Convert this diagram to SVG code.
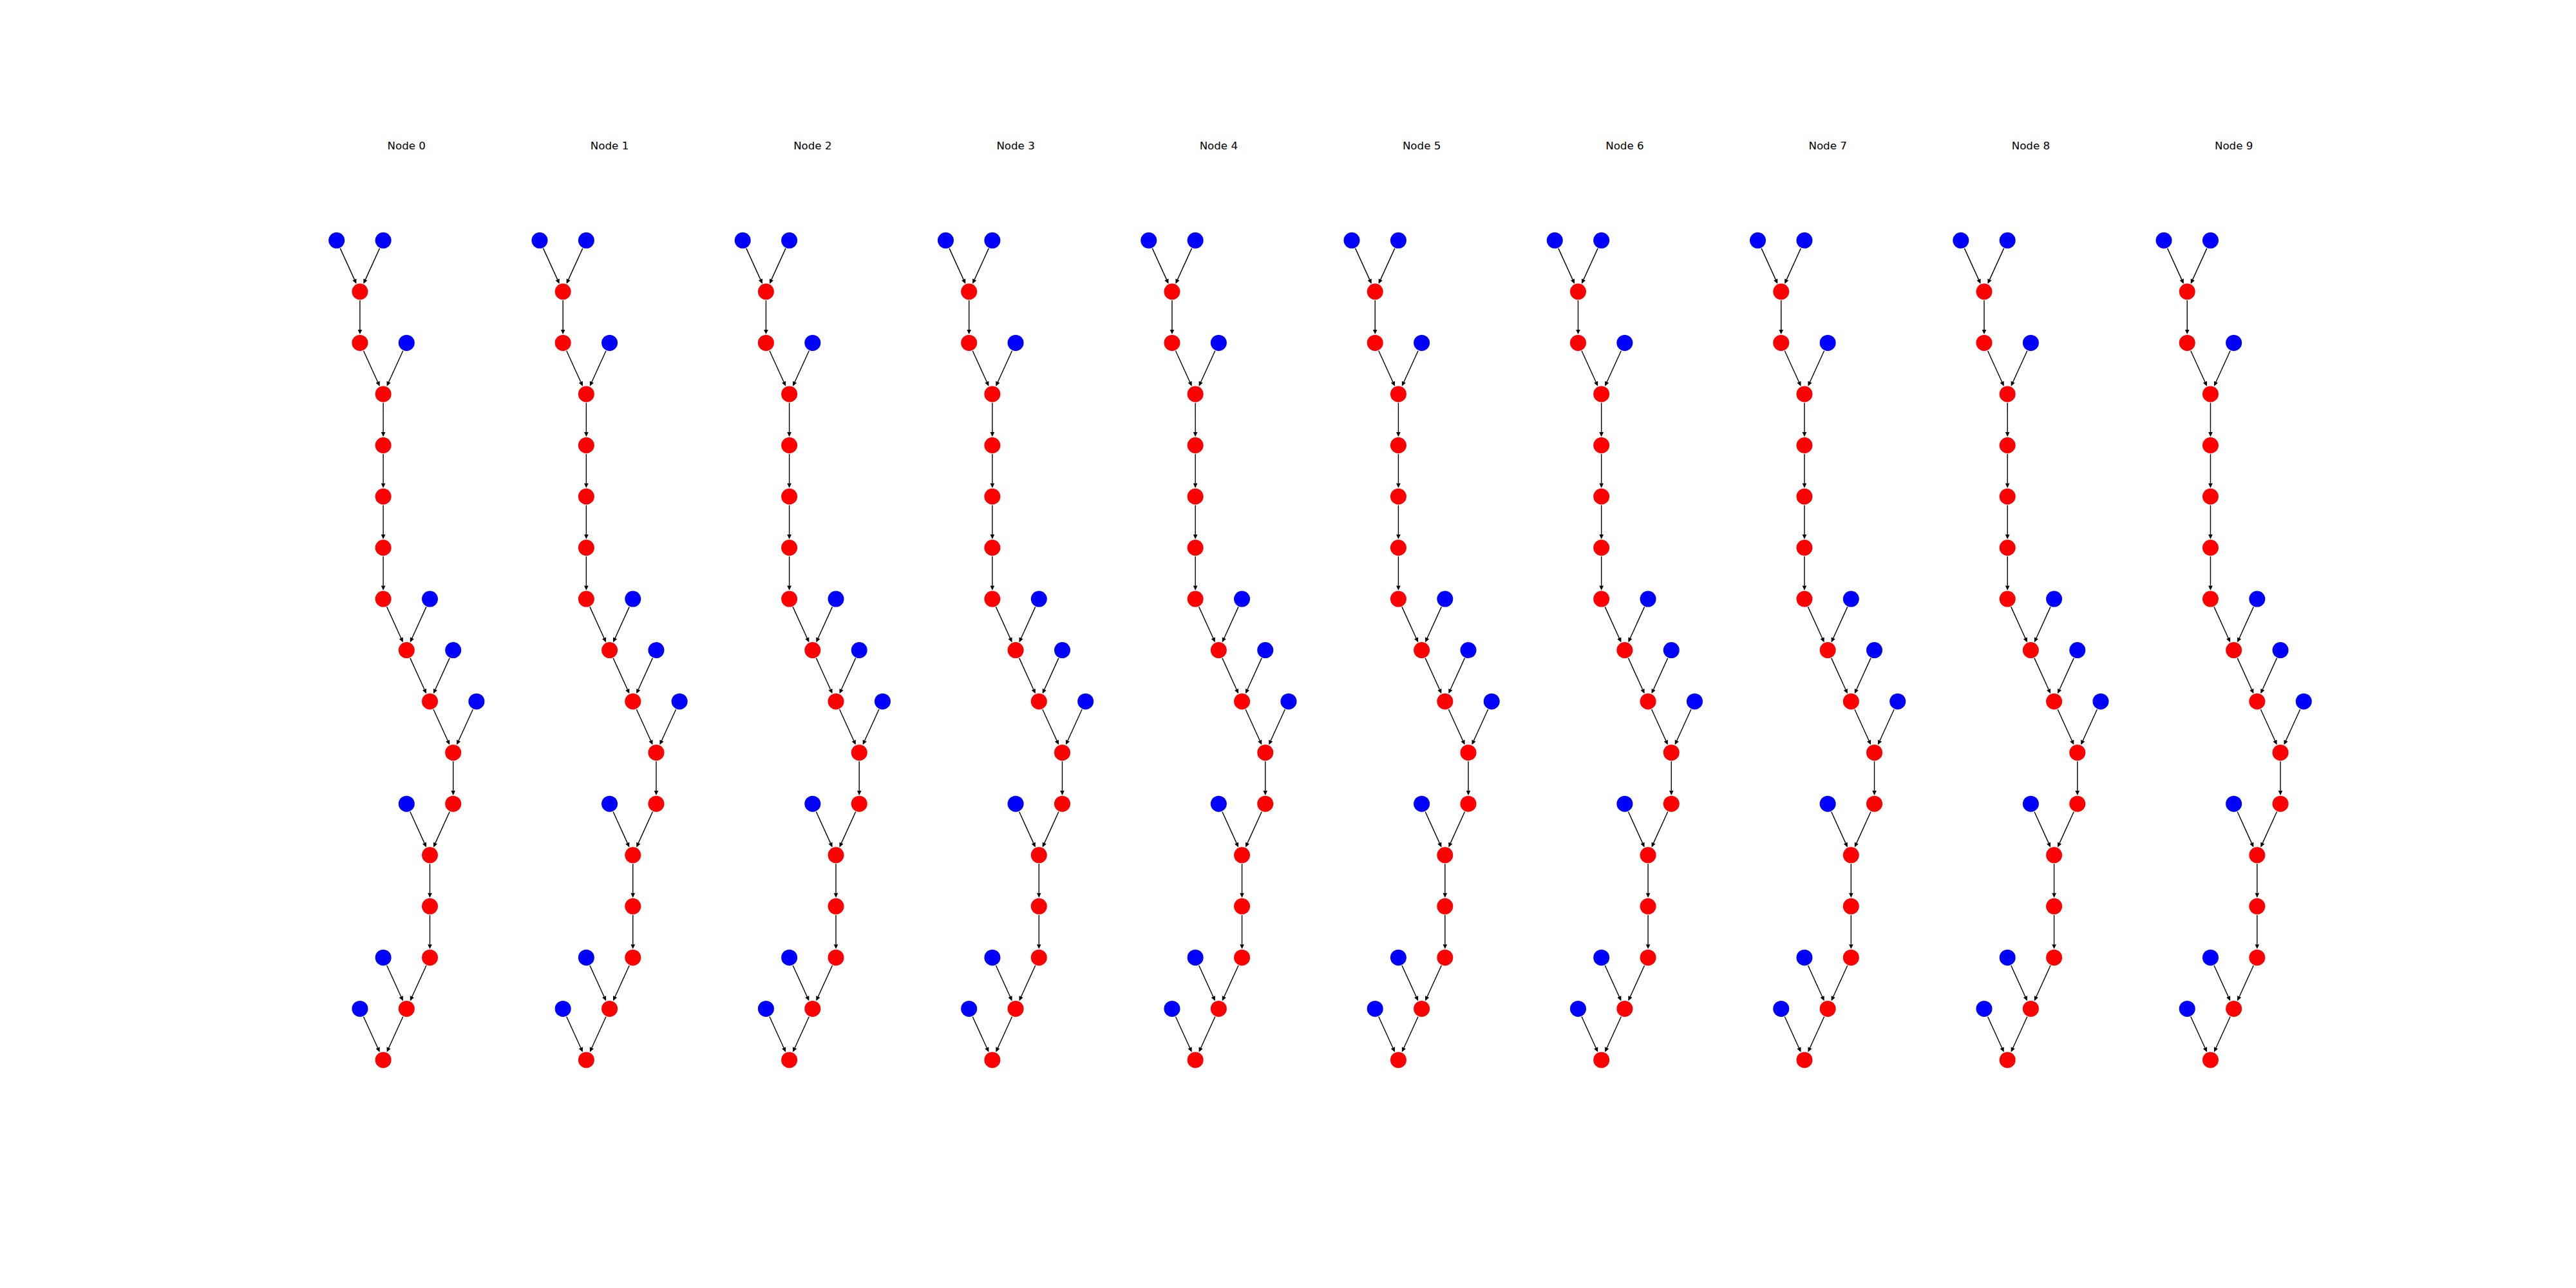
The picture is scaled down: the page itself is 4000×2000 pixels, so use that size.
<svg xmlns="http://www.w3.org/2000/svg" xmlns:xlink="http://www.w3.org/1999/xlink" width="4000" height="2000" viewBox="0 0 4000 2000">
<style>
.t{font-family:"DejaVu Sans","Liberation Sans",sans-serif;font-size:16.67px;fill:#000;text-anchor:middle}
.b{fill:#0000ff}
.r{fill:#ff0000}
.e line{stroke:#000;stroke-width:1.4;marker-end:url(#ah)}
</style>
<defs>
<marker id="ah" markerUnits="userSpaceOnUse" markerWidth="8" markerHeight="8" viewBox="0 -4 8 8" refX="0" refY="0" orient="auto" overflow="visible"><path d="M0,-3.3 L7.2,0 L0,3.3 z" fill="#000"/></marker>
</defs>
<rect width="4000" height="2000" fill="#fff"/>
<g id="panel-0" transform="translate(0,0)">
<text class="t" x="631.3" y="232.3">Node 0</text>
<g id="p0-edges" class="e">
<line x1="528.29" y1="385.59" x2="550.41" y2="434.14"/><line x1="589.51" y1="385.59" x2="567.39" y2="434.14"/><line x1="558.9" y1="466.3" x2="558.9" y2="511.9"/><line x1="564.49" y1="544.69" x2="586.61" y2="593.24"/><line x1="625.71" y1="544.69" x2="603.59" y2="593.24"/><line x1="595.1" y1="625.4" x2="595.1" y2="671"/><line x1="595.1" y1="705" x2="595.1" y2="750.5"/><line x1="595.1" y1="784.5" x2="595.1" y2="830"/><line x1="595.1" y1="864" x2="595.1" y2="909.6"/><line x1="600.69" y1="942.39" x2="622.81" y2="990.94"/><line x1="661.91" y1="942.39" x2="639.79" y2="990.94"/><line x1="636.89" y1="1021.89" x2="659.01" y2="1070.54"/><line x1="698.11" y1="1021.89" x2="675.99" y2="1070.54"/><line x1="673.09" y1="1101.49" x2="695.21" y2="1150.04"/><line x1="734.31" y1="1101.49" x2="712.19" y2="1150.04"/><line x1="703.7" y1="1182.2" x2="703.7" y2="1227.7"/><line x1="698.11" y1="1260.49" x2="675.99" y2="1309.14"/><line x1="636.89" y1="1260.49" x2="659.01" y2="1309.14"/><line x1="667.5" y1="1341.3" x2="667.5" y2="1386.8"/><line x1="667.5" y1="1420.8" x2="667.5" y2="1466.4"/><line x1="661.91" y1="1499.19" x2="639.79" y2="1547.74"/><line x1="600.69" y1="1499.19" x2="622.81" y2="1547.74"/><line x1="625.71" y1="1578.69" x2="603.59" y2="1627.24"/><line x1="564.49" y1="1578.69" x2="586.61" y2="1627.24"/>
</g>
<g id="p0-n0"><circle class="b" cx="522.7" cy="373.3" r="12.5"/></g><g id="p0-n1"><circle class="b" cx="595.1" cy="373.3" r="12.5"/></g><g id="p0-n2"><circle class="r" cx="558.9" cy="452.8" r="12.5"/></g><g id="p0-n3"><circle class="r" cx="558.9" cy="532.4" r="12.5"/></g><g id="p0-n4"><circle class="b" cx="631.3" cy="532.4" r="12.5"/></g><g id="p0-n5"><circle class="r" cx="595.1" cy="611.9" r="12.5"/></g><g id="p0-n6"><circle class="r" cx="595.1" cy="691.5" r="12.5"/></g><g id="p0-n7"><circle class="r" cx="595.1" cy="771" r="12.5"/></g><g id="p0-n8"><circle class="r" cx="595.1" cy="850.5" r="12.5"/></g><g id="p0-n9"><circle class="r" cx="595.1" cy="930.1" r="12.5"/></g><g id="p0-n10"><circle class="b" cx="667.5" cy="930.1" r="12.5"/></g><g id="p0-n11"><circle class="r" cx="631.3" cy="1009.6" r="12.5"/></g><g id="p0-n12"><circle class="b" cx="703.7" cy="1009.6" r="12.5"/></g><g id="p0-n13"><circle class="r" cx="667.5" cy="1089.2" r="12.5"/></g><g id="p0-n14"><circle class="b" cx="739.9" cy="1089.2" r="12.5"/></g><g id="p0-n15"><circle class="r" cx="703.7" cy="1168.7" r="12.5"/></g><g id="p0-n16"><circle class="r" cx="703.7" cy="1248.2" r="12.5"/></g><g id="p0-n17"><circle class="b" cx="631.3" cy="1248.2" r="12.5"/></g><g id="p0-n18"><circle class="r" cx="667.5" cy="1327.8" r="12.5"/></g><g id="p0-n19"><circle class="r" cx="667.5" cy="1407.3" r="12.5"/></g><g id="p0-n20"><circle class="r" cx="667.5" cy="1486.9" r="12.5"/></g><g id="p0-n21"><circle class="b" cx="595.1" cy="1486.9" r="12.5"/></g><g id="p0-n22"><circle class="r" cx="631.3" cy="1566.4" r="12.5"/></g><g id="p0-n23"><circle class="b" cx="558.9" cy="1566.4" r="12.5"/></g><g id="p0-n24"><circle class="r" cx="595.1" cy="1645.9" r="12.5"/></g>
</g>
<g id="panel-1" transform="translate(315.26,0)">
<text class="t" x="631.3" y="232.3">Node 1</text>
<g id="p1-edges" class="e">
<line x1="528.29" y1="385.59" x2="550.41" y2="434.14"/><line x1="589.51" y1="385.59" x2="567.39" y2="434.14"/><line x1="558.9" y1="466.3" x2="558.9" y2="511.9"/><line x1="564.49" y1="544.69" x2="586.61" y2="593.24"/><line x1="625.71" y1="544.69" x2="603.59" y2="593.24"/><line x1="595.1" y1="625.4" x2="595.1" y2="671"/><line x1="595.1" y1="705" x2="595.1" y2="750.5"/><line x1="595.1" y1="784.5" x2="595.1" y2="830"/><line x1="595.1" y1="864" x2="595.1" y2="909.6"/><line x1="600.69" y1="942.39" x2="622.81" y2="990.94"/><line x1="661.91" y1="942.39" x2="639.79" y2="990.94"/><line x1="636.89" y1="1021.89" x2="659.01" y2="1070.54"/><line x1="698.11" y1="1021.89" x2="675.99" y2="1070.54"/><line x1="673.09" y1="1101.49" x2="695.21" y2="1150.04"/><line x1="734.31" y1="1101.49" x2="712.19" y2="1150.04"/><line x1="703.7" y1="1182.2" x2="703.7" y2="1227.7"/><line x1="698.11" y1="1260.49" x2="675.99" y2="1309.14"/><line x1="636.89" y1="1260.49" x2="659.01" y2="1309.14"/><line x1="667.5" y1="1341.3" x2="667.5" y2="1386.8"/><line x1="667.5" y1="1420.8" x2="667.5" y2="1466.4"/><line x1="661.91" y1="1499.19" x2="639.79" y2="1547.74"/><line x1="600.69" y1="1499.19" x2="622.81" y2="1547.74"/><line x1="625.71" y1="1578.69" x2="603.59" y2="1627.24"/><line x1="564.49" y1="1578.69" x2="586.61" y2="1627.24"/>
</g>
<g id="p1-n0"><circle class="b" cx="522.7" cy="373.3" r="12.5"/></g><g id="p1-n1"><circle class="b" cx="595.1" cy="373.3" r="12.5"/></g><g id="p1-n2"><circle class="r" cx="558.9" cy="452.8" r="12.5"/></g><g id="p1-n3"><circle class="r" cx="558.9" cy="532.4" r="12.5"/></g><g id="p1-n4"><circle class="b" cx="631.3" cy="532.4" r="12.5"/></g><g id="p1-n5"><circle class="r" cx="595.1" cy="611.9" r="12.5"/></g><g id="p1-n6"><circle class="r" cx="595.1" cy="691.5" r="12.5"/></g><g id="p1-n7"><circle class="r" cx="595.1" cy="771" r="12.5"/></g><g id="p1-n8"><circle class="r" cx="595.1" cy="850.5" r="12.5"/></g><g id="p1-n9"><circle class="r" cx="595.1" cy="930.1" r="12.5"/></g><g id="p1-n10"><circle class="b" cx="667.5" cy="930.1" r="12.5"/></g><g id="p1-n11"><circle class="r" cx="631.3" cy="1009.6" r="12.5"/></g><g id="p1-n12"><circle class="b" cx="703.7" cy="1009.6" r="12.5"/></g><g id="p1-n13"><circle class="r" cx="667.5" cy="1089.2" r="12.5"/></g><g id="p1-n14"><circle class="b" cx="739.9" cy="1089.2" r="12.5"/></g><g id="p1-n15"><circle class="r" cx="703.7" cy="1168.7" r="12.5"/></g><g id="p1-n16"><circle class="r" cx="703.7" cy="1248.2" r="12.5"/></g><g id="p1-n17"><circle class="b" cx="631.3" cy="1248.2" r="12.5"/></g><g id="p1-n18"><circle class="r" cx="667.5" cy="1327.8" r="12.5"/></g><g id="p1-n19"><circle class="r" cx="667.5" cy="1407.3" r="12.5"/></g><g id="p1-n20"><circle class="r" cx="667.5" cy="1486.9" r="12.5"/></g><g id="p1-n21"><circle class="b" cx="595.1" cy="1486.9" r="12.5"/></g><g id="p1-n22"><circle class="r" cx="631.3" cy="1566.4" r="12.5"/></g><g id="p1-n23"><circle class="b" cx="558.9" cy="1566.4" r="12.5"/></g><g id="p1-n24"><circle class="r" cx="595.1" cy="1645.9" r="12.5"/></g>
</g>
<g id="panel-2" transform="translate(630.52,0)">
<text class="t" x="631.3" y="232.3">Node 2</text>
<g id="p2-edges" class="e">
<line x1="528.29" y1="385.59" x2="550.41" y2="434.14"/><line x1="589.51" y1="385.59" x2="567.39" y2="434.14"/><line x1="558.9" y1="466.3" x2="558.9" y2="511.9"/><line x1="564.49" y1="544.69" x2="586.61" y2="593.24"/><line x1="625.71" y1="544.69" x2="603.59" y2="593.24"/><line x1="595.1" y1="625.4" x2="595.1" y2="671"/><line x1="595.1" y1="705" x2="595.1" y2="750.5"/><line x1="595.1" y1="784.5" x2="595.1" y2="830"/><line x1="595.1" y1="864" x2="595.1" y2="909.6"/><line x1="600.69" y1="942.39" x2="622.81" y2="990.94"/><line x1="661.91" y1="942.39" x2="639.79" y2="990.94"/><line x1="636.89" y1="1021.89" x2="659.01" y2="1070.54"/><line x1="698.11" y1="1021.89" x2="675.99" y2="1070.54"/><line x1="673.09" y1="1101.49" x2="695.21" y2="1150.04"/><line x1="734.31" y1="1101.49" x2="712.19" y2="1150.04"/><line x1="703.7" y1="1182.2" x2="703.7" y2="1227.7"/><line x1="698.11" y1="1260.49" x2="675.99" y2="1309.14"/><line x1="636.89" y1="1260.49" x2="659.01" y2="1309.14"/><line x1="667.5" y1="1341.3" x2="667.5" y2="1386.8"/><line x1="667.5" y1="1420.8" x2="667.5" y2="1466.4"/><line x1="661.91" y1="1499.19" x2="639.79" y2="1547.74"/><line x1="600.69" y1="1499.19" x2="622.81" y2="1547.74"/><line x1="625.71" y1="1578.69" x2="603.59" y2="1627.24"/><line x1="564.49" y1="1578.69" x2="586.61" y2="1627.24"/>
</g>
<g id="p2-n0"><circle class="b" cx="522.7" cy="373.3" r="12.5"/></g><g id="p2-n1"><circle class="b" cx="595.1" cy="373.3" r="12.5"/></g><g id="p2-n2"><circle class="r" cx="558.9" cy="452.8" r="12.5"/></g><g id="p2-n3"><circle class="r" cx="558.9" cy="532.4" r="12.5"/></g><g id="p2-n4"><circle class="b" cx="631.3" cy="532.4" r="12.5"/></g><g id="p2-n5"><circle class="r" cx="595.1" cy="611.9" r="12.5"/></g><g id="p2-n6"><circle class="r" cx="595.1" cy="691.5" r="12.5"/></g><g id="p2-n7"><circle class="r" cx="595.1" cy="771" r="12.5"/></g><g id="p2-n8"><circle class="r" cx="595.1" cy="850.5" r="12.5"/></g><g id="p2-n9"><circle class="r" cx="595.1" cy="930.1" r="12.5"/></g><g id="p2-n10"><circle class="b" cx="667.5" cy="930.1" r="12.5"/></g><g id="p2-n11"><circle class="r" cx="631.3" cy="1009.6" r="12.5"/></g><g id="p2-n12"><circle class="b" cx="703.7" cy="1009.6" r="12.5"/></g><g id="p2-n13"><circle class="r" cx="667.5" cy="1089.2" r="12.5"/></g><g id="p2-n14"><circle class="b" cx="739.9" cy="1089.2" r="12.5"/></g><g id="p2-n15"><circle class="r" cx="703.7" cy="1168.7" r="12.5"/></g><g id="p2-n16"><circle class="r" cx="703.7" cy="1248.2" r="12.5"/></g><g id="p2-n17"><circle class="b" cx="631.3" cy="1248.2" r="12.5"/></g><g id="p2-n18"><circle class="r" cx="667.5" cy="1327.8" r="12.5"/></g><g id="p2-n19"><circle class="r" cx="667.5" cy="1407.3" r="12.5"/></g><g id="p2-n20"><circle class="r" cx="667.5" cy="1486.9" r="12.5"/></g><g id="p2-n21"><circle class="b" cx="595.1" cy="1486.9" r="12.5"/></g><g id="p2-n22"><circle class="r" cx="631.3" cy="1566.4" r="12.5"/></g><g id="p2-n23"><circle class="b" cx="558.9" cy="1566.4" r="12.5"/></g><g id="p2-n24"><circle class="r" cx="595.1" cy="1645.9" r="12.5"/></g>
</g>
<g id="panel-3" transform="translate(945.78,0)">
<text class="t" x="631.3" y="232.3">Node 3</text>
<g id="p3-edges" class="e">
<line x1="528.29" y1="385.59" x2="550.41" y2="434.14"/><line x1="589.51" y1="385.59" x2="567.39" y2="434.14"/><line x1="558.9" y1="466.3" x2="558.9" y2="511.9"/><line x1="564.49" y1="544.69" x2="586.61" y2="593.24"/><line x1="625.71" y1="544.69" x2="603.59" y2="593.24"/><line x1="595.1" y1="625.4" x2="595.1" y2="671"/><line x1="595.1" y1="705" x2="595.1" y2="750.5"/><line x1="595.1" y1="784.5" x2="595.1" y2="830"/><line x1="595.1" y1="864" x2="595.1" y2="909.6"/><line x1="600.69" y1="942.39" x2="622.81" y2="990.94"/><line x1="661.91" y1="942.39" x2="639.79" y2="990.94"/><line x1="636.89" y1="1021.89" x2="659.01" y2="1070.54"/><line x1="698.11" y1="1021.89" x2="675.99" y2="1070.54"/><line x1="673.09" y1="1101.49" x2="695.21" y2="1150.04"/><line x1="734.31" y1="1101.49" x2="712.19" y2="1150.04"/><line x1="703.7" y1="1182.2" x2="703.7" y2="1227.7"/><line x1="698.11" y1="1260.49" x2="675.99" y2="1309.14"/><line x1="636.89" y1="1260.49" x2="659.01" y2="1309.14"/><line x1="667.5" y1="1341.3" x2="667.5" y2="1386.8"/><line x1="667.5" y1="1420.8" x2="667.5" y2="1466.4"/><line x1="661.91" y1="1499.19" x2="639.79" y2="1547.74"/><line x1="600.69" y1="1499.19" x2="622.81" y2="1547.74"/><line x1="625.71" y1="1578.69" x2="603.59" y2="1627.24"/><line x1="564.49" y1="1578.69" x2="586.61" y2="1627.24"/>
</g>
<g id="p3-n0"><circle class="b" cx="522.7" cy="373.3" r="12.5"/></g><g id="p3-n1"><circle class="b" cx="595.1" cy="373.3" r="12.5"/></g><g id="p3-n2"><circle class="r" cx="558.9" cy="452.8" r="12.5"/></g><g id="p3-n3"><circle class="r" cx="558.9" cy="532.4" r="12.5"/></g><g id="p3-n4"><circle class="b" cx="631.3" cy="532.4" r="12.5"/></g><g id="p3-n5"><circle class="r" cx="595.1" cy="611.9" r="12.5"/></g><g id="p3-n6"><circle class="r" cx="595.1" cy="691.5" r="12.5"/></g><g id="p3-n7"><circle class="r" cx="595.1" cy="771" r="12.5"/></g><g id="p3-n8"><circle class="r" cx="595.1" cy="850.5" r="12.5"/></g><g id="p3-n9"><circle class="r" cx="595.1" cy="930.1" r="12.5"/></g><g id="p3-n10"><circle class="b" cx="667.5" cy="930.1" r="12.5"/></g><g id="p3-n11"><circle class="r" cx="631.3" cy="1009.6" r="12.5"/></g><g id="p3-n12"><circle class="b" cx="703.7" cy="1009.6" r="12.5"/></g><g id="p3-n13"><circle class="r" cx="667.5" cy="1089.2" r="12.5"/></g><g id="p3-n14"><circle class="b" cx="739.9" cy="1089.2" r="12.5"/></g><g id="p3-n15"><circle class="r" cx="703.7" cy="1168.7" r="12.5"/></g><g id="p3-n16"><circle class="r" cx="703.7" cy="1248.2" r="12.5"/></g><g id="p3-n17"><circle class="b" cx="631.3" cy="1248.2" r="12.5"/></g><g id="p3-n18"><circle class="r" cx="667.5" cy="1327.8" r="12.5"/></g><g id="p3-n19"><circle class="r" cx="667.5" cy="1407.3" r="12.5"/></g><g id="p3-n20"><circle class="r" cx="667.5" cy="1486.9" r="12.5"/></g><g id="p3-n21"><circle class="b" cx="595.1" cy="1486.9" r="12.5"/></g><g id="p3-n22"><circle class="r" cx="631.3" cy="1566.4" r="12.5"/></g><g id="p3-n23"><circle class="b" cx="558.9" cy="1566.4" r="12.5"/></g><g id="p3-n24"><circle class="r" cx="595.1" cy="1645.9" r="12.5"/></g>
</g>
<g id="panel-4" transform="translate(1261.04,0)">
<text class="t" x="631.3" y="232.3">Node 4</text>
<g id="p4-edges" class="e">
<line x1="528.29" y1="385.59" x2="550.41" y2="434.14"/><line x1="589.51" y1="385.59" x2="567.39" y2="434.14"/><line x1="558.9" y1="466.3" x2="558.9" y2="511.9"/><line x1="564.49" y1="544.69" x2="586.61" y2="593.24"/><line x1="625.71" y1="544.69" x2="603.59" y2="593.24"/><line x1="595.1" y1="625.4" x2="595.1" y2="671"/><line x1="595.1" y1="705" x2="595.1" y2="750.5"/><line x1="595.1" y1="784.5" x2="595.1" y2="830"/><line x1="595.1" y1="864" x2="595.1" y2="909.6"/><line x1="600.69" y1="942.39" x2="622.81" y2="990.94"/><line x1="661.91" y1="942.39" x2="639.79" y2="990.94"/><line x1="636.89" y1="1021.89" x2="659.01" y2="1070.54"/><line x1="698.11" y1="1021.89" x2="675.99" y2="1070.54"/><line x1="673.09" y1="1101.49" x2="695.21" y2="1150.04"/><line x1="734.31" y1="1101.49" x2="712.19" y2="1150.04"/><line x1="703.7" y1="1182.2" x2="703.7" y2="1227.7"/><line x1="698.11" y1="1260.49" x2="675.99" y2="1309.14"/><line x1="636.89" y1="1260.49" x2="659.01" y2="1309.14"/><line x1="667.5" y1="1341.3" x2="667.5" y2="1386.8"/><line x1="667.5" y1="1420.8" x2="667.5" y2="1466.4"/><line x1="661.91" y1="1499.19" x2="639.79" y2="1547.74"/><line x1="600.69" y1="1499.19" x2="622.81" y2="1547.74"/><line x1="625.71" y1="1578.69" x2="603.59" y2="1627.24"/><line x1="564.49" y1="1578.69" x2="586.61" y2="1627.24"/>
</g>
<g id="p4-n0"><circle class="b" cx="522.7" cy="373.3" r="12.5"/></g><g id="p4-n1"><circle class="b" cx="595.1" cy="373.3" r="12.5"/></g><g id="p4-n2"><circle class="r" cx="558.9" cy="452.8" r="12.5"/></g><g id="p4-n3"><circle class="r" cx="558.9" cy="532.4" r="12.5"/></g><g id="p4-n4"><circle class="b" cx="631.3" cy="532.4" r="12.5"/></g><g id="p4-n5"><circle class="r" cx="595.1" cy="611.9" r="12.5"/></g><g id="p4-n6"><circle class="r" cx="595.1" cy="691.5" r="12.5"/></g><g id="p4-n7"><circle class="r" cx="595.1" cy="771" r="12.5"/></g><g id="p4-n8"><circle class="r" cx="595.1" cy="850.5" r="12.5"/></g><g id="p4-n9"><circle class="r" cx="595.1" cy="930.1" r="12.5"/></g><g id="p4-n10"><circle class="b" cx="667.5" cy="930.1" r="12.5"/></g><g id="p4-n11"><circle class="r" cx="631.3" cy="1009.6" r="12.5"/></g><g id="p4-n12"><circle class="b" cx="703.7" cy="1009.6" r="12.5"/></g><g id="p4-n13"><circle class="r" cx="667.5" cy="1089.2" r="12.5"/></g><g id="p4-n14"><circle class="b" cx="739.9" cy="1089.2" r="12.5"/></g><g id="p4-n15"><circle class="r" cx="703.7" cy="1168.7" r="12.5"/></g><g id="p4-n16"><circle class="r" cx="703.7" cy="1248.2" r="12.5"/></g><g id="p4-n17"><circle class="b" cx="631.3" cy="1248.2" r="12.5"/></g><g id="p4-n18"><circle class="r" cx="667.5" cy="1327.8" r="12.5"/></g><g id="p4-n19"><circle class="r" cx="667.5" cy="1407.3" r="12.5"/></g><g id="p4-n20"><circle class="r" cx="667.5" cy="1486.9" r="12.5"/></g><g id="p4-n21"><circle class="b" cx="595.1" cy="1486.9" r="12.5"/></g><g id="p4-n22"><circle class="r" cx="631.3" cy="1566.4" r="12.5"/></g><g id="p4-n23"><circle class="b" cx="558.9" cy="1566.4" r="12.5"/></g><g id="p4-n24"><circle class="r" cx="595.1" cy="1645.9" r="12.5"/></g>
</g>
<g id="panel-5" transform="translate(1576.3,0)">
<text class="t" x="631.3" y="232.3">Node 5</text>
<g id="p5-edges" class="e">
<line x1="528.29" y1="385.59" x2="550.41" y2="434.14"/><line x1="589.51" y1="385.59" x2="567.39" y2="434.14"/><line x1="558.9" y1="466.3" x2="558.9" y2="511.9"/><line x1="564.49" y1="544.69" x2="586.61" y2="593.24"/><line x1="625.71" y1="544.69" x2="603.59" y2="593.24"/><line x1="595.1" y1="625.4" x2="595.1" y2="671"/><line x1="595.1" y1="705" x2="595.1" y2="750.5"/><line x1="595.1" y1="784.5" x2="595.1" y2="830"/><line x1="595.1" y1="864" x2="595.1" y2="909.6"/><line x1="600.69" y1="942.39" x2="622.81" y2="990.94"/><line x1="661.91" y1="942.39" x2="639.79" y2="990.94"/><line x1="636.89" y1="1021.89" x2="659.01" y2="1070.54"/><line x1="698.11" y1="1021.89" x2="675.99" y2="1070.54"/><line x1="673.09" y1="1101.49" x2="695.21" y2="1150.04"/><line x1="734.31" y1="1101.49" x2="712.19" y2="1150.04"/><line x1="703.7" y1="1182.2" x2="703.7" y2="1227.7"/><line x1="698.11" y1="1260.49" x2="675.99" y2="1309.14"/><line x1="636.89" y1="1260.49" x2="659.01" y2="1309.14"/><line x1="667.5" y1="1341.3" x2="667.5" y2="1386.8"/><line x1="667.5" y1="1420.8" x2="667.5" y2="1466.4"/><line x1="661.91" y1="1499.19" x2="639.79" y2="1547.74"/><line x1="600.69" y1="1499.19" x2="622.81" y2="1547.74"/><line x1="625.71" y1="1578.69" x2="603.59" y2="1627.24"/><line x1="564.49" y1="1578.69" x2="586.61" y2="1627.24"/>
</g>
<g id="p5-n0"><circle class="b" cx="522.7" cy="373.3" r="12.5"/></g><g id="p5-n1"><circle class="b" cx="595.1" cy="373.3" r="12.5"/></g><g id="p5-n2"><circle class="r" cx="558.9" cy="452.8" r="12.5"/></g><g id="p5-n3"><circle class="r" cx="558.9" cy="532.4" r="12.5"/></g><g id="p5-n4"><circle class="b" cx="631.3" cy="532.4" r="12.5"/></g><g id="p5-n5"><circle class="r" cx="595.1" cy="611.9" r="12.5"/></g><g id="p5-n6"><circle class="r" cx="595.1" cy="691.5" r="12.5"/></g><g id="p5-n7"><circle class="r" cx="595.1" cy="771" r="12.5"/></g><g id="p5-n8"><circle class="r" cx="595.1" cy="850.5" r="12.5"/></g><g id="p5-n9"><circle class="r" cx="595.1" cy="930.1" r="12.5"/></g><g id="p5-n10"><circle class="b" cx="667.5" cy="930.1" r="12.5"/></g><g id="p5-n11"><circle class="r" cx="631.3" cy="1009.6" r="12.5"/></g><g id="p5-n12"><circle class="b" cx="703.7" cy="1009.6" r="12.5"/></g><g id="p5-n13"><circle class="r" cx="667.5" cy="1089.2" r="12.5"/></g><g id="p5-n14"><circle class="b" cx="739.9" cy="1089.2" r="12.5"/></g><g id="p5-n15"><circle class="r" cx="703.7" cy="1168.7" r="12.5"/></g><g id="p5-n16"><circle class="r" cx="703.7" cy="1248.2" r="12.5"/></g><g id="p5-n17"><circle class="b" cx="631.3" cy="1248.2" r="12.5"/></g><g id="p5-n18"><circle class="r" cx="667.5" cy="1327.8" r="12.5"/></g><g id="p5-n19"><circle class="r" cx="667.5" cy="1407.3" r="12.5"/></g><g id="p5-n20"><circle class="r" cx="667.5" cy="1486.9" r="12.5"/></g><g id="p5-n21"><circle class="b" cx="595.1" cy="1486.9" r="12.5"/></g><g id="p5-n22"><circle class="r" cx="631.3" cy="1566.4" r="12.5"/></g><g id="p5-n23"><circle class="b" cx="558.9" cy="1566.4" r="12.5"/></g><g id="p5-n24"><circle class="r" cx="595.1" cy="1645.9" r="12.5"/></g>
</g>
<g id="panel-6" transform="translate(1891.56,0)">
<text class="t" x="631.3" y="232.3">Node 6</text>
<g id="p6-edges" class="e">
<line x1="528.29" y1="385.59" x2="550.41" y2="434.14"/><line x1="589.51" y1="385.59" x2="567.39" y2="434.14"/><line x1="558.9" y1="466.3" x2="558.9" y2="511.9"/><line x1="564.49" y1="544.69" x2="586.61" y2="593.24"/><line x1="625.71" y1="544.69" x2="603.59" y2="593.24"/><line x1="595.1" y1="625.4" x2="595.1" y2="671"/><line x1="595.1" y1="705" x2="595.1" y2="750.5"/><line x1="595.1" y1="784.5" x2="595.1" y2="830"/><line x1="595.1" y1="864" x2="595.1" y2="909.6"/><line x1="600.69" y1="942.39" x2="622.81" y2="990.94"/><line x1="661.91" y1="942.39" x2="639.79" y2="990.94"/><line x1="636.89" y1="1021.89" x2="659.01" y2="1070.54"/><line x1="698.11" y1="1021.89" x2="675.99" y2="1070.54"/><line x1="673.09" y1="1101.49" x2="695.21" y2="1150.04"/><line x1="734.31" y1="1101.49" x2="712.19" y2="1150.04"/><line x1="703.7" y1="1182.2" x2="703.7" y2="1227.7"/><line x1="698.11" y1="1260.49" x2="675.99" y2="1309.14"/><line x1="636.89" y1="1260.49" x2="659.01" y2="1309.14"/><line x1="667.5" y1="1341.3" x2="667.5" y2="1386.8"/><line x1="667.5" y1="1420.8" x2="667.5" y2="1466.4"/><line x1="661.91" y1="1499.19" x2="639.79" y2="1547.74"/><line x1="600.69" y1="1499.19" x2="622.81" y2="1547.74"/><line x1="625.71" y1="1578.69" x2="603.59" y2="1627.24"/><line x1="564.49" y1="1578.69" x2="586.61" y2="1627.24"/>
</g>
<g id="p6-n0"><circle class="b" cx="522.7" cy="373.3" r="12.5"/></g><g id="p6-n1"><circle class="b" cx="595.1" cy="373.3" r="12.5"/></g><g id="p6-n2"><circle class="r" cx="558.9" cy="452.8" r="12.5"/></g><g id="p6-n3"><circle class="r" cx="558.9" cy="532.4" r="12.5"/></g><g id="p6-n4"><circle class="b" cx="631.3" cy="532.4" r="12.5"/></g><g id="p6-n5"><circle class="r" cx="595.1" cy="611.9" r="12.5"/></g><g id="p6-n6"><circle class="r" cx="595.1" cy="691.5" r="12.5"/></g><g id="p6-n7"><circle class="r" cx="595.1" cy="771" r="12.5"/></g><g id="p6-n8"><circle class="r" cx="595.1" cy="850.5" r="12.5"/></g><g id="p6-n9"><circle class="r" cx="595.1" cy="930.1" r="12.5"/></g><g id="p6-n10"><circle class="b" cx="667.5" cy="930.1" r="12.5"/></g><g id="p6-n11"><circle class="r" cx="631.3" cy="1009.6" r="12.5"/></g><g id="p6-n12"><circle class="b" cx="703.7" cy="1009.6" r="12.5"/></g><g id="p6-n13"><circle class="r" cx="667.5" cy="1089.2" r="12.5"/></g><g id="p6-n14"><circle class="b" cx="739.9" cy="1089.2" r="12.5"/></g><g id="p6-n15"><circle class="r" cx="703.7" cy="1168.7" r="12.5"/></g><g id="p6-n16"><circle class="r" cx="703.7" cy="1248.2" r="12.5"/></g><g id="p6-n17"><circle class="b" cx="631.3" cy="1248.2" r="12.5"/></g><g id="p6-n18"><circle class="r" cx="667.5" cy="1327.8" r="12.5"/></g><g id="p6-n19"><circle class="r" cx="667.5" cy="1407.3" r="12.5"/></g><g id="p6-n20"><circle class="r" cx="667.5" cy="1486.9" r="12.5"/></g><g id="p6-n21"><circle class="b" cx="595.1" cy="1486.9" r="12.5"/></g><g id="p6-n22"><circle class="r" cx="631.3" cy="1566.4" r="12.5"/></g><g id="p6-n23"><circle class="b" cx="558.9" cy="1566.4" r="12.5"/></g><g id="p6-n24"><circle class="r" cx="595.1" cy="1645.9" r="12.5"/></g>
</g>
<g id="panel-7" transform="translate(2206.82,0)">
<text class="t" x="631.3" y="232.3">Node 7</text>
<g id="p7-edges" class="e">
<line x1="528.29" y1="385.59" x2="550.41" y2="434.14"/><line x1="589.51" y1="385.59" x2="567.39" y2="434.14"/><line x1="558.9" y1="466.3" x2="558.9" y2="511.9"/><line x1="564.49" y1="544.69" x2="586.61" y2="593.24"/><line x1="625.71" y1="544.69" x2="603.59" y2="593.24"/><line x1="595.1" y1="625.4" x2="595.1" y2="671"/><line x1="595.1" y1="705" x2="595.1" y2="750.5"/><line x1="595.1" y1="784.5" x2="595.1" y2="830"/><line x1="595.1" y1="864" x2="595.1" y2="909.6"/><line x1="600.69" y1="942.39" x2="622.81" y2="990.94"/><line x1="661.91" y1="942.39" x2="639.79" y2="990.94"/><line x1="636.89" y1="1021.89" x2="659.01" y2="1070.54"/><line x1="698.11" y1="1021.89" x2="675.99" y2="1070.54"/><line x1="673.09" y1="1101.49" x2="695.21" y2="1150.04"/><line x1="734.31" y1="1101.49" x2="712.19" y2="1150.04"/><line x1="703.7" y1="1182.2" x2="703.7" y2="1227.7"/><line x1="698.11" y1="1260.49" x2="675.99" y2="1309.14"/><line x1="636.89" y1="1260.49" x2="659.01" y2="1309.14"/><line x1="667.5" y1="1341.3" x2="667.5" y2="1386.8"/><line x1="667.5" y1="1420.8" x2="667.5" y2="1466.4"/><line x1="661.91" y1="1499.19" x2="639.79" y2="1547.74"/><line x1="600.69" y1="1499.19" x2="622.81" y2="1547.74"/><line x1="625.71" y1="1578.69" x2="603.59" y2="1627.24"/><line x1="564.49" y1="1578.69" x2="586.61" y2="1627.24"/>
</g>
<g id="p7-n0"><circle class="b" cx="522.7" cy="373.3" r="12.5"/></g><g id="p7-n1"><circle class="b" cx="595.1" cy="373.3" r="12.5"/></g><g id="p7-n2"><circle class="r" cx="558.9" cy="452.8" r="12.5"/></g><g id="p7-n3"><circle class="r" cx="558.9" cy="532.4" r="12.5"/></g><g id="p7-n4"><circle class="b" cx="631.3" cy="532.4" r="12.5"/></g><g id="p7-n5"><circle class="r" cx="595.1" cy="611.9" r="12.5"/></g><g id="p7-n6"><circle class="r" cx="595.1" cy="691.5" r="12.5"/></g><g id="p7-n7"><circle class="r" cx="595.1" cy="771" r="12.5"/></g><g id="p7-n8"><circle class="r" cx="595.1" cy="850.5" r="12.5"/></g><g id="p7-n9"><circle class="r" cx="595.1" cy="930.1" r="12.5"/></g><g id="p7-n10"><circle class="b" cx="667.5" cy="930.1" r="12.5"/></g><g id="p7-n11"><circle class="r" cx="631.3" cy="1009.6" r="12.5"/></g><g id="p7-n12"><circle class="b" cx="703.7" cy="1009.6" r="12.5"/></g><g id="p7-n13"><circle class="r" cx="667.5" cy="1089.2" r="12.5"/></g><g id="p7-n14"><circle class="b" cx="739.9" cy="1089.2" r="12.5"/></g><g id="p7-n15"><circle class="r" cx="703.7" cy="1168.7" r="12.5"/></g><g id="p7-n16"><circle class="r" cx="703.7" cy="1248.2" r="12.5"/></g><g id="p7-n17"><circle class="b" cx="631.3" cy="1248.2" r="12.5"/></g><g id="p7-n18"><circle class="r" cx="667.5" cy="1327.8" r="12.5"/></g><g id="p7-n19"><circle class="r" cx="667.5" cy="1407.3" r="12.5"/></g><g id="p7-n20"><circle class="r" cx="667.5" cy="1486.9" r="12.5"/></g><g id="p7-n21"><circle class="b" cx="595.1" cy="1486.9" r="12.5"/></g><g id="p7-n22"><circle class="r" cx="631.3" cy="1566.4" r="12.5"/></g><g id="p7-n23"><circle class="b" cx="558.9" cy="1566.4" r="12.5"/></g><g id="p7-n24"><circle class="r" cx="595.1" cy="1645.9" r="12.5"/></g>
</g>
<g id="panel-8" transform="translate(2522.08,0)">
<text class="t" x="631.3" y="232.3">Node 8</text>
<g id="p8-edges" class="e">
<line x1="528.29" y1="385.59" x2="550.41" y2="434.14"/><line x1="589.51" y1="385.59" x2="567.39" y2="434.14"/><line x1="558.9" y1="466.3" x2="558.9" y2="511.9"/><line x1="564.49" y1="544.69" x2="586.61" y2="593.24"/><line x1="625.71" y1="544.69" x2="603.59" y2="593.24"/><line x1="595.1" y1="625.4" x2="595.1" y2="671"/><line x1="595.1" y1="705" x2="595.1" y2="750.5"/><line x1="595.1" y1="784.5" x2="595.1" y2="830"/><line x1="595.1" y1="864" x2="595.1" y2="909.6"/><line x1="600.69" y1="942.39" x2="622.81" y2="990.94"/><line x1="661.91" y1="942.39" x2="639.79" y2="990.94"/><line x1="636.89" y1="1021.89" x2="659.01" y2="1070.54"/><line x1="698.11" y1="1021.89" x2="675.99" y2="1070.54"/><line x1="673.09" y1="1101.49" x2="695.21" y2="1150.04"/><line x1="734.31" y1="1101.49" x2="712.19" y2="1150.04"/><line x1="703.7" y1="1182.2" x2="703.7" y2="1227.7"/><line x1="698.11" y1="1260.49" x2="675.99" y2="1309.14"/><line x1="636.89" y1="1260.49" x2="659.01" y2="1309.14"/><line x1="667.5" y1="1341.3" x2="667.5" y2="1386.8"/><line x1="667.5" y1="1420.8" x2="667.5" y2="1466.4"/><line x1="661.91" y1="1499.19" x2="639.79" y2="1547.74"/><line x1="600.69" y1="1499.19" x2="622.81" y2="1547.74"/><line x1="625.71" y1="1578.69" x2="603.59" y2="1627.24"/><line x1="564.49" y1="1578.69" x2="586.61" y2="1627.24"/>
</g>
<g id="p8-n0"><circle class="b" cx="522.7" cy="373.3" r="12.5"/></g><g id="p8-n1"><circle class="b" cx="595.1" cy="373.3" r="12.5"/></g><g id="p8-n2"><circle class="r" cx="558.9" cy="452.8" r="12.5"/></g><g id="p8-n3"><circle class="r" cx="558.9" cy="532.4" r="12.5"/></g><g id="p8-n4"><circle class="b" cx="631.3" cy="532.4" r="12.5"/></g><g id="p8-n5"><circle class="r" cx="595.1" cy="611.9" r="12.5"/></g><g id="p8-n6"><circle class="r" cx="595.1" cy="691.5" r="12.5"/></g><g id="p8-n7"><circle class="r" cx="595.1" cy="771" r="12.5"/></g><g id="p8-n8"><circle class="r" cx="595.1" cy="850.5" r="12.5"/></g><g id="p8-n9"><circle class="r" cx="595.1" cy="930.1" r="12.5"/></g><g id="p8-n10"><circle class="b" cx="667.5" cy="930.1" r="12.5"/></g><g id="p8-n11"><circle class="r" cx="631.3" cy="1009.6" r="12.5"/></g><g id="p8-n12"><circle class="b" cx="703.7" cy="1009.6" r="12.5"/></g><g id="p8-n13"><circle class="r" cx="667.5" cy="1089.2" r="12.5"/></g><g id="p8-n14"><circle class="b" cx="739.9" cy="1089.2" r="12.5"/></g><g id="p8-n15"><circle class="r" cx="703.7" cy="1168.7" r="12.5"/></g><g id="p8-n16"><circle class="r" cx="703.7" cy="1248.2" r="12.5"/></g><g id="p8-n17"><circle class="b" cx="631.3" cy="1248.2" r="12.5"/></g><g id="p8-n18"><circle class="r" cx="667.5" cy="1327.8" r="12.5"/></g><g id="p8-n19"><circle class="r" cx="667.5" cy="1407.3" r="12.5"/></g><g id="p8-n20"><circle class="r" cx="667.5" cy="1486.9" r="12.5"/></g><g id="p8-n21"><circle class="b" cx="595.1" cy="1486.9" r="12.5"/></g><g id="p8-n22"><circle class="r" cx="631.3" cy="1566.4" r="12.5"/></g><g id="p8-n23"><circle class="b" cx="558.9" cy="1566.4" r="12.5"/></g><g id="p8-n24"><circle class="r" cx="595.1" cy="1645.9" r="12.5"/></g>
</g>
<g id="panel-9" transform="translate(2837.34,0)">
<text class="t" x="631.3" y="232.3">Node 9</text>
<g id="p9-edges" class="e">
<line x1="528.29" y1="385.59" x2="550.41" y2="434.14"/><line x1="589.51" y1="385.59" x2="567.39" y2="434.14"/><line x1="558.9" y1="466.3" x2="558.9" y2="511.9"/><line x1="564.49" y1="544.69" x2="586.61" y2="593.24"/><line x1="625.71" y1="544.69" x2="603.59" y2="593.24"/><line x1="595.1" y1="625.4" x2="595.1" y2="671"/><line x1="595.1" y1="705" x2="595.1" y2="750.5"/><line x1="595.1" y1="784.5" x2="595.1" y2="830"/><line x1="595.1" y1="864" x2="595.1" y2="909.6"/><line x1="600.69" y1="942.39" x2="622.81" y2="990.94"/><line x1="661.91" y1="942.39" x2="639.79" y2="990.94"/><line x1="636.89" y1="1021.89" x2="659.01" y2="1070.54"/><line x1="698.11" y1="1021.89" x2="675.99" y2="1070.54"/><line x1="673.09" y1="1101.49" x2="695.21" y2="1150.04"/><line x1="734.31" y1="1101.49" x2="712.19" y2="1150.04"/><line x1="703.7" y1="1182.2" x2="703.7" y2="1227.7"/><line x1="698.11" y1="1260.49" x2="675.99" y2="1309.14"/><line x1="636.89" y1="1260.49" x2="659.01" y2="1309.14"/><line x1="667.5" y1="1341.3" x2="667.5" y2="1386.8"/><line x1="667.5" y1="1420.8" x2="667.5" y2="1466.4"/><line x1="661.91" y1="1499.19" x2="639.79" y2="1547.74"/><line x1="600.69" y1="1499.19" x2="622.81" y2="1547.74"/><line x1="625.71" y1="1578.69" x2="603.59" y2="1627.24"/><line x1="564.49" y1="1578.69" x2="586.61" y2="1627.24"/>
</g>
<g id="p9-n0"><circle class="b" cx="522.7" cy="373.3" r="12.5"/></g><g id="p9-n1"><circle class="b" cx="595.1" cy="373.3" r="12.5"/></g><g id="p9-n2"><circle class="r" cx="558.9" cy="452.8" r="12.5"/></g><g id="p9-n3"><circle class="r" cx="558.9" cy="532.4" r="12.5"/></g><g id="p9-n4"><circle class="b" cx="631.3" cy="532.4" r="12.5"/></g><g id="p9-n5"><circle class="r" cx="595.1" cy="611.9" r="12.5"/></g><g id="p9-n6"><circle class="r" cx="595.1" cy="691.5" r="12.5"/></g><g id="p9-n7"><circle class="r" cx="595.1" cy="771" r="12.5"/></g><g id="p9-n8"><circle class="r" cx="595.1" cy="850.5" r="12.5"/></g><g id="p9-n9"><circle class="r" cx="595.1" cy="930.1" r="12.5"/></g><g id="p9-n10"><circle class="b" cx="667.5" cy="930.1" r="12.5"/></g><g id="p9-n11"><circle class="r" cx="631.3" cy="1009.6" r="12.5"/></g><g id="p9-n12"><circle class="b" cx="703.7" cy="1009.6" r="12.5"/></g><g id="p9-n13"><circle class="r" cx="667.5" cy="1089.2" r="12.5"/></g><g id="p9-n14"><circle class="b" cx="739.9" cy="1089.2" r="12.5"/></g><g id="p9-n15"><circle class="r" cx="703.7" cy="1168.7" r="12.5"/></g><g id="p9-n16"><circle class="r" cx="703.7" cy="1248.2" r="12.5"/></g><g id="p9-n17"><circle class="b" cx="631.3" cy="1248.2" r="12.5"/></g><g id="p9-n18"><circle class="r" cx="667.5" cy="1327.8" r="12.5"/></g><g id="p9-n19"><circle class="r" cx="667.5" cy="1407.3" r="12.5"/></g><g id="p9-n20"><circle class="r" cx="667.5" cy="1486.9" r="12.5"/></g><g id="p9-n21"><circle class="b" cx="595.1" cy="1486.9" r="12.5"/></g><g id="p9-n22"><circle class="r" cx="631.3" cy="1566.4" r="12.5"/></g><g id="p9-n23"><circle class="b" cx="558.9" cy="1566.4" r="12.5"/></g><g id="p9-n24"><circle class="r" cx="595.1" cy="1645.9" r="12.5"/></g>
</g>
</svg>
